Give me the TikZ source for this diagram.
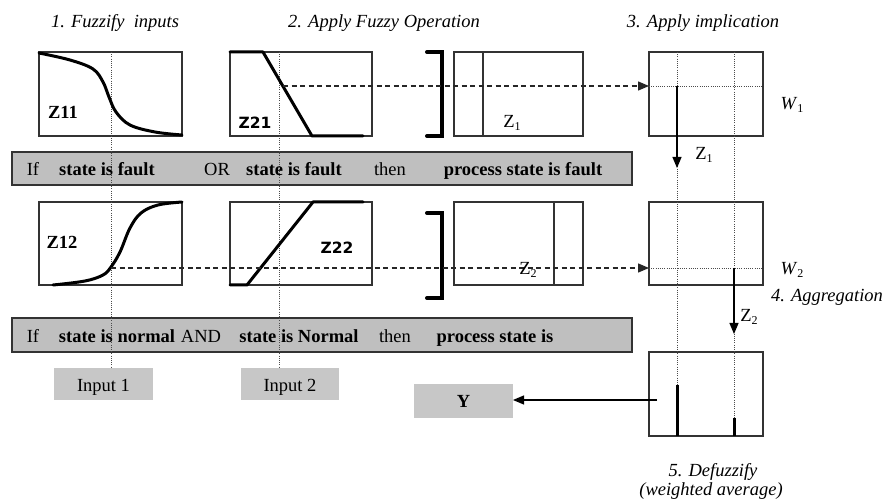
\documentclass[tikz,border=0pt]{standalone}
\usepackage{fontspec}
\setmainfont{Liberation Serif}
\newfontfamily\labsans{DejaVu Sans}
\usetikzlibrary{arrows.meta}
\newcommand{\subt}[1]{\raisebox{-0.35ex}{\fontsize{12}{13}\selectfont #1}}
\tikzset{
  lbl/.style={font=\fontsize{18.5}{22}\selectfont, inner sep=0pt, outer sep=0pt},
  ttl/.style={font=\fontsize{18.5}{22}\selectfont\itshape, inner sep=0pt},
  bld/.style={font=\fontsize{18.5}{22}\selectfont\bfseries, inner sep=0pt, anchor=base},
  rgl/.style={font=\fontsize{18.5}{22}\selectfont, inner sep=0pt, anchor=base},
  sbld/.style={font=\fontsize{15.5}{18}\selectfont\labsans\bfseries, inner sep=0pt},
  frame/.style={draw=black!80, line width=1.2pt, inner sep=0pt, outer sep=0pt},
  bar/.style={draw=black!80, fill=black!25, line width=1.5pt, inner sep=0pt, outer sep=0pt},
  gbox/.style={fill=black!22, inner sep=0pt, outer sep=0pt},
  dot/.style={black!70, line width=0.7pt, dash pattern=on 1pt off 1.2pt},
  dsh/.style={black!85, line width=1.3pt, dash pattern=on 5pt off 3.5pt, -{Triangle[length=11pt,width=9pt]}},
  arr/.style={black, line width=1.2pt, -{Triangle[length=11pt,width=9pt]}},
  curve/.style={black, line width=3pt, line cap=round, line join=round},
  brk/.style={black, line width=4pt, line cap=round},
  spike/.style={black, line width=3pt}
}
\begin{document}
\begin{tikzpicture}[x=1pt,y=-1pt]
\useasboundingbox (0,0) rectangle (884,502);

% titles
\node[ttl] (t1) at (115,23) {1. Fuzzify\ \ inputs};
\node[ttl] (t2) at (384,23) {2. Apply Fuzzy Operation};
\node[ttl] (t3) at (703,23) {3. Apply implication};

% rule bars
\node[bar, minimum width=620pt, minimum height=33pt] (bar1) at (322,168.5) {};
\node[bar, minimum width=620pt, minimum height=34pt] (bar2) at (322,335) {};

% boxes row 1
\node[frame, minimum width=143pt, minimum height=84pt] (b11) at (110.5,94) {};
\node[frame, minimum width=142pt, minimum height=84pt] (b21) at (301,94) {};
\node[frame, minimum width=129pt, minimum height=84pt] (z1b) at (518.5,94) {};
\node[frame, minimum width=114pt, minimum height=84pt] (imp1) at (706,94) {};
% boxes row 2
\node[frame, minimum width=143pt, minimum height=83pt] (b12) at (110.5,243.5) {};
\node[frame, minimum width=142pt, minimum height=83pt] (b22) at (301,243.5) {};
\node[frame, minimum width=129pt, minimum height=83pt] (z2b) at (518.5,243.5) {};
\node[frame, minimum width=114pt, minimum height=83pt] (imp2) at (706,243.5) {};
% defuzzify box
\node[frame, minimum width=114pt, minimum height=84pt] (dfz) at (706,394) {};

% input and output boxes
\node[gbox, minimum width=99pt, minimum height=32pt] (in1) at (103.5,384) {};
\node[gbox, minimum width=98pt, minimum height=32pt] (in2) at (290,384) {};
\node[gbox, minimum width=99pt, minimum height=34pt] (yb) at (463.5,401) {};
\node[rgl] (in1t) at (103.5,392) {Input 1};
\node[rgl] (in2t) at (290,392) {Input 2};
\node[bld] (ybt) at (463.5,408) {Y};

% inner lines of Z boxes
\draw[black!80, line width=1.2pt] (483,52) -- (483,136);
\draw[black!80, line width=1.2pt] (554,202) -- (554,285);

% dotted verticals
\coordinate (d1t) at (111,52);
\coordinate (d2t) at (279,52);
\coordinate (d3t) at (677,52);
\coordinate (d4t) at (734,52);
\coordinate (s1t) at (677,385);
\coordinate (s1b) at (677,436);
\coordinate (s2t) at (734,418);
\coordinate (s2b) at (734,436);
\draw[dot] (d1t) -- (d1t |- in1.north);
\draw[dot] (d2t) -- (d2t |- in2.north);
\draw[dot] (d3t) -- (s1t);
\draw[dot] (d4t) -- (s2t);
% dotted horizontals in implication boxes
\draw[dot] (imp1.west |- 0,86) -- (imp1.east |- 0,86);
\draw[dot] (imp2.west |- 0,268) -- (imp2.east |- 0,268);

% spikes
\draw[spike] (s1t) -- (s1b);
\draw[spike] (s2t) -- (s2b);

% membership curves
\draw[curve] plot[smooth, tension=0.6] coordinates {(39,53) (70,60) (93,69) (103,82) (109,97) (116,112) (130,125) (155,132) (182,135)};
\draw[curve] plot[smooth, tension=0.6] coordinates {(53,285) (85,281) (103,275) (111,267) (120,252) (130,228) (141,213) (158,205) (182,202)};
\draw[curve] (230,52) -- (263,52) -- (312,136) -- (363,136);
\draw[curve] (230,285) -- (247,285) -- (313,202) -- (363,202);

% brackets
\draw[brk] (427,52) -- (442,52) -- (442,136) -- (427,136);
\draw[brk] (427,213) -- (442,213) -- (442,298) -- (427,298);

% dashed connectors
\coordinate (c1) at (283,86);
\coordinate (c2) at (111,268);
\draw[dsh] (c1) -- (c1 -| imp1.west);
\draw[dsh] (c2) -- (c2 -| imp2.west);

% solid arrows
\coordinate (a1s) at (677,86);
\coordinate (a1e) at (677,168);
\coordinate (a2s) at (734,268);
\coordinate (a2e) at (734,334);
\draw[arr] (a1s) -- (a1e);
\draw[arr] (a2s) -- (a2e);
\coordinate (ys) at (657,400);
\draw[arr] (ys) -- (ys -| yb.east);

% box labels
\node[lbl, font=\fontsize{18.5}{22}\selectfont\bfseries] (l11) at (63,112) {Z11};
\node[lbl, font=\fontsize{18.5}{22}\selectfont\bfseries] (l12) at (62,242) {Z12};
\node[sbld] (l21) at (255,123) {Z21};
\node[sbld] (l22) at (337,248) {Z22};
\node[lbl] (lz1) at (512,123) {Z\subt{1}};
\node[lbl] (lz2) at (528,270) {Z\subt{2}};
\node[lbl] (az1) at (704,155) {Z\subt{1}};
\node[lbl] (az2) at (749,317) {Z\subt{2}};
\node[lbl] (w1) at (792,105) {\textit{W}\subt{1}};
\node[lbl] (w2) at (792,270) {\textit{W}\subt{2}};
\node[ttl] (agg) at (827,297) {4. Aggregation};
\node[ttl] (def1) at (713,472) {5. Defuzzify};
\node[ttl] (def2) at (711,491) {(weighted average)};

% rule texts bar 1
\node[rgl] (r11) at (33,176) {If};
\node[bld] (r12) at (107,176) {state is fault};
\node[rgl] (r13) at (217,176) {OR};
\node[bld] (r14) at (294,176) {state is fault};
\node[rgl] (r15) at (390,176) {then};
\node[bld] (r16) at (523,176) {process state is fault};
% rule texts bar 2
\node[rgl] (r21) at (33,343) {If};
\node[bld] (r22) at (117,343) {state is normal};
\node[rgl] (r23) at (201,343) {AND};
\node[bld] (r24) at (299,343) {state is Normal};
\node[rgl] (r25) at (395,343) {then};
\node[bld] (r26) at (495,343) {process state is};
\end{tikzpicture}
\end{document}
